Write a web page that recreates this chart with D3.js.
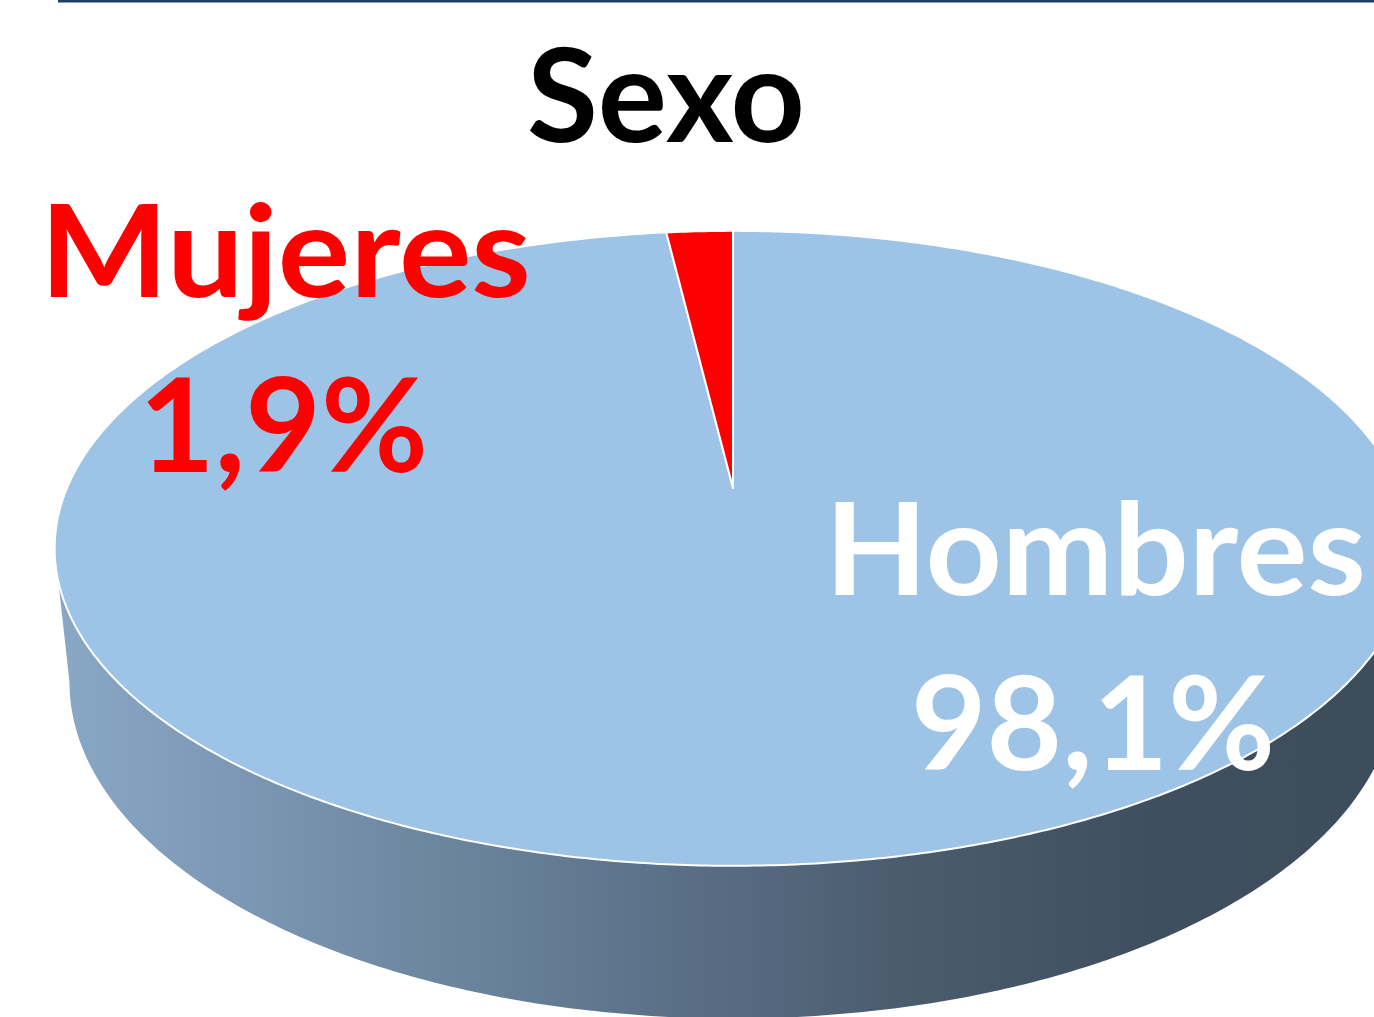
<!DOCTYPE html>
<html><head><meta charset="utf-8">
<script src="https://cdn.jsdelivr.net/npm/d3@7"></script>
<style>body{margin:0;background:#fff}svg{display:block}</style>
</head><body>
<svg id="c" width="1374" height="1017"></svg>
<script>
// ---- data ----
const title = "Sexo";
const categories = ["Hombres", "Mujeres"];
const values = [98.1, 1.9];
const valueLabels = ["98,1%", "1,9%"];
const sliceColors = ["#9dc3e6", "#ff0000"];
const labelColors = ["#ffffff", "#ff0000"];

// ---- layout ----
const W = 1374, H = 1017;
const svg = d3.select("#c");
const FONT = "Lato, 'Open Sans', sans-serif";

// projective mapping of a disc (u,v in unit circle) to the screen
function disc(cx, yc, A, B, k) {
  return a => {
    const u = Math.sin(a), v = -Math.cos(a), w = 1 - k * v;
    return [cx + A * u / w, yc + B * v / w];
  };
}
const kT = 0.19, kB = 0.16;
const topP = disc(733, 488, 666, 306, kT);
const botP = disc(733, 628, 655, 328, kB);
const center = [733, 488];

const line = d3.line();
const sample = (a0, a1, n) => d3.range(n + 1).map(i => a0 + (a1 - a0) * i / n);

// side gradient
const defs = svg.append("defs");
const grad = defs.append("linearGradient").attr("id", "side")
  .attr("gradientUnits", "userSpaceOnUse").attr("x1", 57).attr("x2", 1374).attr("y1", 0).attr("y2", 0);
[[0, "#89a8c6"], [0.26, "#7089a3"], [0.49, "#586d84"], [0.64, "#4b5c6e"], [0.83, "#404f5f"], [1, "#3e4d5c"]]
  .forEach(([o, c]) => grad.append("stop").attr("offset", o).attr("stop-color", c));

// top rule
svg.append("rect").attr("x", 58).attr("y", 0).attr("width", W - 58).attr("height", 2.5).attr("fill", "#1f3f66");

// side wall
const aRT = Math.acos(-kT), aLT = 2 * Math.PI - aRT;
const aRB = Math.acos(-kB), aLB = 2 * Math.PI - aRB;
const sidePts = sample(aRT, aLT, 240).map(topP).concat(sample(aLB, aRB, 240).map(botP));
svg.append("path").attr("d", line(sidePts) + "Z").attr("fill", "url(#side)");

// top face slices
const pie = d3.pie().sort(null).value(d => d)(values);
svg.selectAll("path.slice").data(pie).join("path").attr("class", "slice")
  .attr("d", d => {
    const n = Math.max(8, Math.round((d.endAngle - d.startAngle) * 120));
    return line([center].concat(sample(d.startAngle, d.endAngle, n).map(topP))) + "Z";
  })
  .attr("fill", (d, i) => sliceColors[i])
  .attr("stroke", "#ffffff").attr("stroke-width", 2).attr("stroke-linejoin", "round");

// title
svg.append("text").attr("x", 527).attr("y", 142).text(title)
  .attr("font-family", FONT).attr("font-weight", 700).attr("font-size", 130)
  .attr("fill", "#000").attr("textLength", 278).attr("lengthAdjust", "spacingAndGlyphs");

// labels
const labelPos = [
  { x: 825, y: 595, w: 541, vx: 911, vy: 770, vw: 364 },
  { x: 40, y: 297, w: 491, vx: 139, vy: 472, vw: 289 }
];
categories.forEach((c, i) => {
  const p = labelPos[i];
  svg.append("text").attr("x", p.x).attr("y", p.y).text(c)
    .attr("font-family", FONT).attr("font-weight", 700).attr("font-size", 129)
    .attr("fill", labelColors[i]).attr("textLength", p.w).attr("lengthAdjust", "spacingAndGlyphs");
  svg.append("text").attr("x", p.vx).attr("y", p.vy).text(valueLabels[i])
    .attr("font-family", FONT).attr("font-weight", 700).attr("font-size", 131)
    .attr("fill", labelColors[i]).attr("textLength", p.vw).attr("lengthAdjust", "spacingAndGlyphs");
});
</script>
</body></html>
